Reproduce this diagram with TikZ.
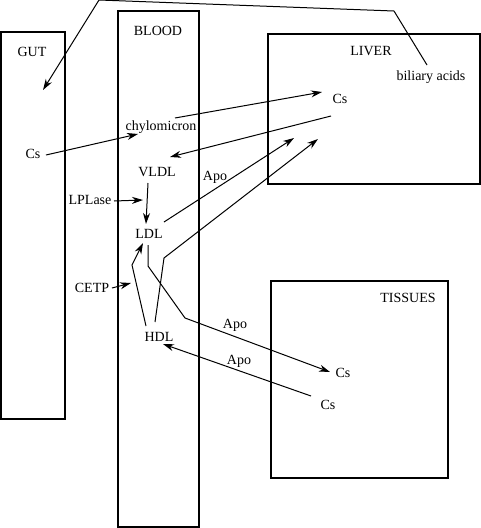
\documentclass[tikz,border=0pt]{standalone}
\usepackage{fontspec}
\setmainfont{Liberation Serif}
\usetikzlibrary{arrows.meta}

\begin{document}
\begin{tikzpicture}[x=1pt, y=-1pt, >={Stealth[length=11pt,width=7pt,inset=3.5pt]},
    line width=1pt, font=\fontsize{14}{16}\selectfont,
    lbl/.style={anchor=base, inner sep=0pt}]
    \useasboundingbox (0,0) rectangle (481,528);

    % compartments
    \draw[line width=1.1pt] (1,32) rectangle (65,419);
    \draw[line width=1.1pt] (118,11) rectangle (199,527);
    \draw[line width=1.1pt] (268,34) rectangle (480,184);
    \draw[line width=1.1pt] (271,281) rectangle (448,478);

    \node[lbl] (gut)    at (32,56)   {GUT};
    \node[lbl] (blood)  at (158,35)  {BLOOD};
    \node[lbl] (liver)  at (371,55)  {LIVER};
    \node[lbl] (tiss)   at (408,302) {TISSUES};

    \node[lbl] (bil)    at (431,80)  {biliary acids};
    \node[lbl] (csliv)  at (340,103) {Cs};
    \node[lbl] (csgut)  at (33,158)  {Cs};
    \node[lbl] (chylo)  at (161,130) {chylomicron};
    \node[lbl] (vldl)   at (157,176) {VLDL};
    \node[lbl] (apoa)   at (215,180) {Apo};
    \node[lbl] (lplase) at (90,204)  {LPLase};
    \node[lbl] (ldl)    at (149,238) {LDL};
    \node[lbl] (cetp)   at (92,292)  {CETP};
    \node[lbl] (hdl)    at (159,341) {HDL};
    \node[lbl] (apob)   at (235,328) {Apo};
    \node[lbl] (apoc)   at (239,364) {Apo};
    \node[lbl] (cstisa) at (343,377) {Cs};
    \node[lbl] (cstisb) at (328,409) {Cs};

    % path ends
    \coordinate (bilA) at (427,65);
    \coordinate (bilB) at (394,11);
    \coordinate (bilC) at (99,0);
    \coordinate (gutIn) at (43,90);
    \coordinate (csgutOut) at (46,155);
    \coordinate (chyloIn) at (138,134);
    \coordinate (chyloOut) at (175,118);
    \coordinate (livIn) at (322,92);
    \coordinate (livOut) at (331,116);
    \coordinate (vldlIn) at (170,157);
    \coordinate (lplOut) at (114,201);
    \coordinate (lplIn) at (143,200);
    \coordinate (vldlOut) at (148,183);
    \coordinate (ldlIn) at (146,224);
    \coordinate (ldlOut) at (164,222);
    \coordinate (livInA) at (294,138);
    \coordinate (hdlOutA) at (155,322);
    \coordinate (hdlKink) at (164,258);
    \coordinate (livInB) at (318,139);
    \coordinate (ldlOutB) at (148,245);
    \coordinate (ldlKinkA) at (148,266);
    \coordinate (ldlKinkB) at (185,318);
    \coordinate (tisIn) at (330,372);
    \coordinate (hdlOutB) at (146,326);
    \coordinate (hdlKinkB) at (132,265);
    \coordinate (ldlInB) at (143,243);
    \coordinate (cetpOut) at (112,288);
    \coordinate (cetpIn) at (131,283);
    \coordinate (tisOut) at (311,396);
    \coordinate (hdlIn) at (163,344);

    % fluxes
    \draw[->] (bilA) -- (bilB) -- (bilC) -- (gutIn);
    \draw[->] (csgutOut) -- (chyloIn);
    \draw[->] (chyloOut) -- (livIn);
    \draw[->] (livOut) -- (vldlIn);
    \draw[->] (lplOut) -- (lplIn);
    \draw[->] (vldlOut) -- (ldlIn);
    \draw[->] (ldlOut) -- (livInA);
    \draw[->] (hdlOutA) -- (hdlKink) -- (livInB);
    \draw[->] (ldlOutB) -- (ldlKinkA) -- (ldlKinkB) -- (tisIn);
    \draw[->] (hdlOutB) -- (hdlKinkB) -- (ldlInB);
    \draw[->] (cetpOut) -- (cetpIn);
    \draw[->] (tisOut) -- (hdlIn);
\end{tikzpicture}
\end{document}
